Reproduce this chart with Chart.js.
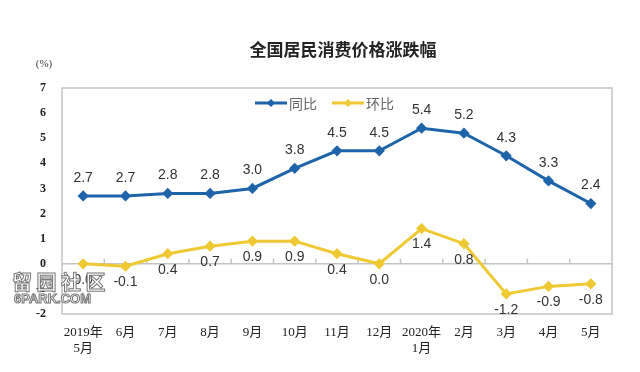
<!DOCTYPE html>
<html>
<head>
<meta charset="utf-8">
<script src="https://cdn.jsdelivr.net/npm/chart.js@4/dist/chart.umd.min.js"></script>
<style>
  html, body { margin: 0; padding: 0; background: #fff; }
  #wrap { width: 640px; height: 372px; }
</style>
</head>
<body>
<div id="wrap"><canvas id="cpi" width="640" height="372"></canvas></div>
<script>
// months, 2019-05 .. 2020-05
const months = [
  ['2019年', '5月'], '6月', '7月', '8月', '9月', '10月', '11月', '12月',
  ['2020年', '1月'], '2月', '3月', '4月', '5月',
]
const yoy = [2.7, 2.7, 2.8, 2.8, 3.0, 3.8, 4.5, 4.5, 5.4, 5.2, 4.3, 3.3, 2.4] // 同比
const mom = [0.0, -0.1, 0.4, 0.7, 0.9, 0.9, 0.4, 0.0, 1.4, 0.8, -1.2, -0.9, -0.8] // 环比
const yTicks = [-2, -1, 0, 1, 2, 3, 4, 5, 6, 7]

const title = '全国居民消费价格涨跌幅'
const blue = '#1f63aa'
const yellow = '#eec934'
const serif = '"Liberation Serif", "Noto Sans CJK SC", serif'
const cjk = '"Noto Sans CJK SC", sans-serif'

// border box, zero line with small ticks, labels, legend, title
const decor = {
  id: 'decor',
  beforeDatasetsDraw(chart) {
    const { ctx, chartArea: a, scales } = chart
    const x = scales.x
    const y = scales.y
    ctx.save()
    ctx.strokeStyle = '#c4c4c4'
    ctx.lineWidth = 1.5
    ctx.strokeRect(a.left, a.top, a.right - a.left, a.bottom - a.top)
    const y0 = y.getPixelForValue(0)
    ctx.beginPath()
    ctx.moveTo(a.left, y0)
    ctx.lineTo(a.right, y0)
    const half = (x.getPixelForValue(1) - x.getPixelForValue(0)) / 2
    for (let i = 0; i < months.length - 1; i++) {
      const px = x.getPixelForValue(i) + half
      ctx.moveTo(px, y0)
      ctx.lineTo(px, y0 - 5)
    }
    ctx.stroke()
    ctx.restore()
  },
  afterDatasetsDraw(chart) {
    const { ctx } = chart
    ctx.save()
    // value labels
    ctx.font = '14px "Liberation Sans", Arial, sans-serif'
    ctx.fillStyle = '#333'
    ctx.textAlign = 'center'
    ctx.textBaseline = 'middle'
    chart.getDatasetMeta(0).data.forEach((p, i) => {
      ctx.fillText(yoy[i].toFixed(1), p.x, p.y - 18)
    })
    chart.getDatasetMeta(1).data.forEach((p, i) => {
      ctx.fillText(mom[i].toFixed(1), p.x, p.y + 16)
    })

    // legend
    const items = [
      { c: blue, t: '同比', x: 255 },
      { c: yellow, t: '环比', x: 332 },
    ]
    const ly = 103
    ctx.font = '14px ' + cjk
    ctx.textAlign = 'left'
    items.forEach((it) => {
      ctx.strokeStyle = it.c
      ctx.lineWidth = 3
      ctx.beginPath()
      ctx.moveTo(it.x, ly)
      ctx.lineTo(it.x + 32, ly)
      ctx.stroke()
      ctx.fillStyle = it.c
      ctx.beginPath()
      ctx.moveTo(it.x + 16, ly - 4)
      ctx.lineTo(it.x + 20, ly)
      ctx.lineTo(it.x + 16, ly + 4)
      ctx.lineTo(it.x + 12, ly)
      ctx.fill()
      ctx.fillStyle = '#666'
      ctx.fillText(it.t, it.x + 34, ly + 1)
    })

    // title and unit
    ctx.fillStyle = '#222'
    ctx.textAlign = 'center'
    ctx.font = 'bold 17px ' + cjk
    ctx.fillText(title, 343, 50)
    ctx.fillStyle = '#444'
    ctx.font = '11px ' + serif
    ctx.fillText('(%)', 44, 64)

    // watermark
    ctx.font = 'bold 20px ' + cjk
    ctx.lineWidth = 1
    ctx.strokeStyle = '#777'
    ctx.fillStyle = '#fff'
    ctx.textAlign = 'left'
    ctx.fillText('留 园 社 区', 12, 282)
    ctx.strokeText('留 园 社 区', 12, 282)
    ctx.font = 'bold 13px "Liberation Sans", sans-serif'
    ctx.fillText('6PARK.COM', 14, 299)
    ctx.strokeText('6PARK.COM', 14, 299)
    ctx.restore()
  },
}

new Chart(document.getElementById('cpi'), {
  type: 'line',
  data: {
    labels: months,
    datasets: [
      {
        label: '同比',
        data: yoy,
        borderColor: blue,
        backgroundColor: blue,
        borderWidth: 3,
        pointStyle: 'rectRot',
        pointRadius: 3.5,
        tension: 0,
      },
      {
        label: '环比',
        data: mom,
        borderColor: yellow,
        backgroundColor: yellow,
        borderWidth: 3,
        pointStyle: 'rectRot',
        pointRadius: 3.5,
        tension: 0,
      },
    ],
  },
  options: {
    responsive: false,
    animation: false,
    layout: { padding: { left: 0, top: 88, right: 28, bottom: 0 } },
    scales: {
      x: {
        offset: true,
        grid: { display: false, drawTicks: false },
        border: { display: false },
        ticks: {
          padding: 11,
          maxRotation: 0,
          autoSkip: false,
          color: '#222',
          font: { family: serif, size: 13 },
        },
        afterFit: (s) => { s.height = 58 },
      },
      y: {
        min: -2,
        max: 7,
        grid: { display: false, drawTicks: false },
        border: { display: false },
        afterBuildTicks: (s) => { s.ticks = yTicks.map((v) => ({ value: v })) },
        ticks: {
          padding: 16,
          color: '#222',
          font: { family: serif, size: 12, weight: 'bold' },
        },
        afterFit: (s) => { s.width = 62 },
      },
    },
    plugins: {
      legend: { display: false },
      title: { display: false },
      tooltip: { enabled: false },
    },
  },
  plugins: [decor],
})
</script>
</body>
</html>
